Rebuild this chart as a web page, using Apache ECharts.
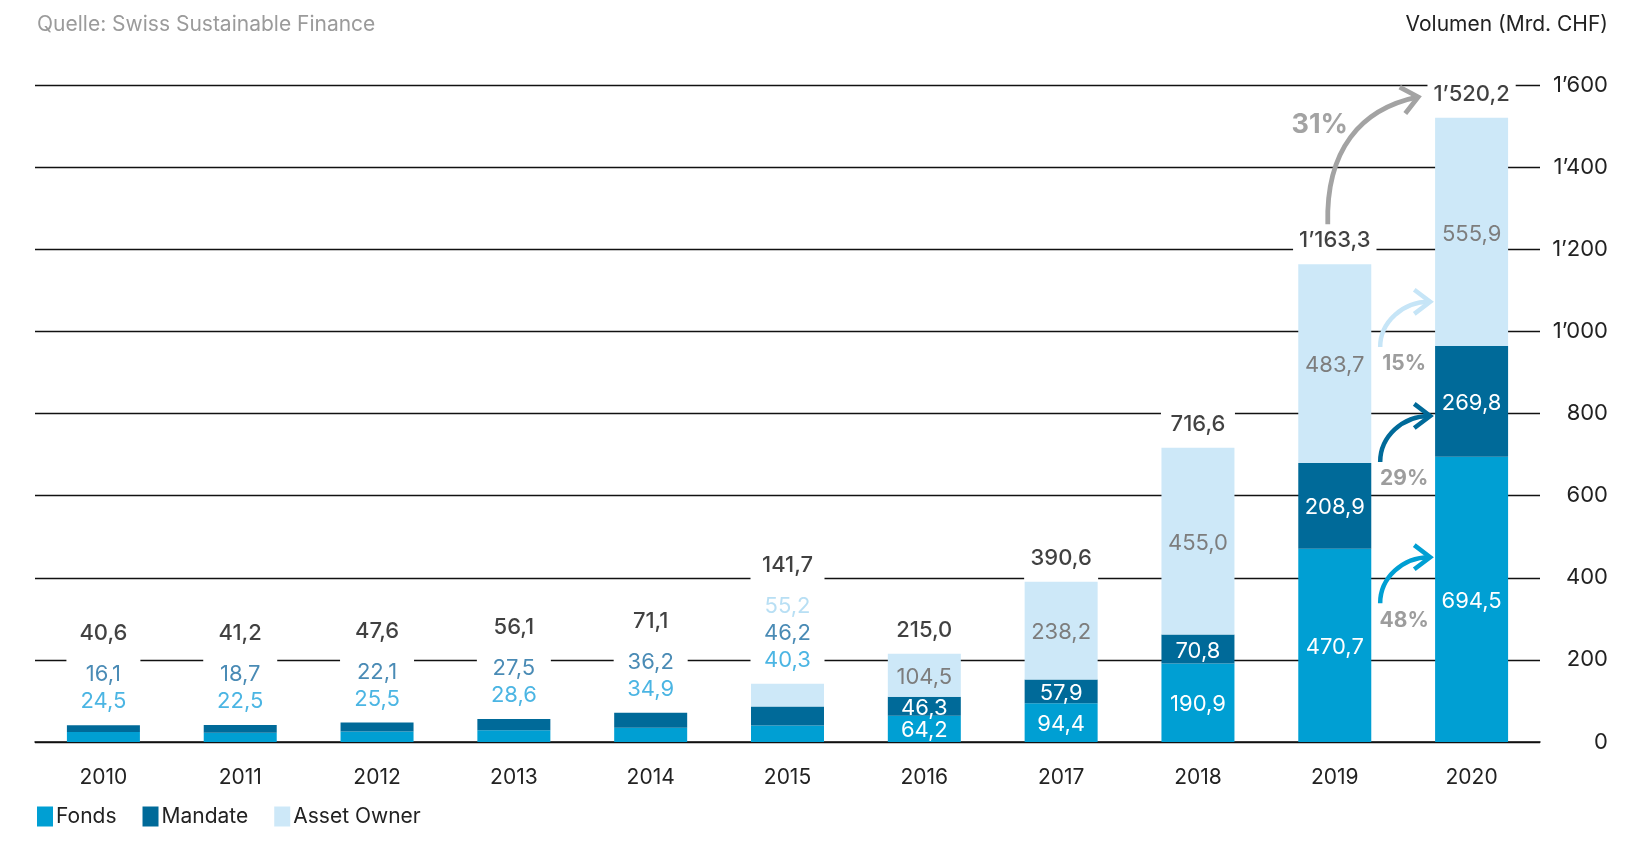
<!DOCTYPE html>
<html><head><meta charset="utf-8">
<script src="https://cdn.jsdelivr.net/npm/echarts/dist/echarts.min.js"></script>
<style>html,body{margin:0;padding:0;background:#fff}#c{width:1632px;height:853px}</style>
</head><body><div id="c"></div>
<script>
// ---- data ----
const years = ['2010','2011','2012','2013','2014','2015','2016','2017','2018','2019','2020'];
const fonds = [24.5, 22.5, 25.5, 28.6, 34.9, 40.3, 64.2, 94.4, 190.9, 470.7, 694.5];
const mandate = [16.1, 18.7, 22.1, 27.5, 36.2, 46.2, 46.3, 57.9, 70.8, 208.9, 269.8];
const assetOwner = [0, 0, 0, 0, 0, 55.2, 104.5, 238.2, 455.0, 483.7, 555.9];
const totals = [40.6, 41.2, 47.6, 56.1, 71.1, 141.7, 215.0, 390.6, 716.6, 1163.3, 1520.2];
const yTicks = [0, 200, 400, 600, 800, 1000, 1200, 1400, 1600];
const seriesNames = ['Fonds', 'Mandate', 'Asset Owner'];
const growthPct = ['48%', '29%', '15%'];      // 2019 -> 2020 per segment
const growthTotal = '31%';                    // 2019 -> 2020 total
const sourceText = 'Quelle: Swiss Sustainable Finance';
const unitText = 'Volumen (Mrd. CHF)';

// ---- style ----
const C_FONDS = '#009fd3', C_MAND = '#006a99', C_ASSET = '#cde8f8';
const FONT = 'Inter';
const insideFrom = 6;   // years from this index get labels inside the bars
const LW = 74;          // label background width
const LH_T = 55, LH = 27, GAP = 10;

function fmt(v) {
  const s = v.toFixed(1).replace('.', ',');
  const [a, b] = s.split(',');
  return a.replace(/\B(?=(\d{3})+(?!\d))/g, '\u2019') + ',' + b;
}
function fmtTick(v) { return String(v).replace(/\B(?=(\d{3})+(?!\d))/g, '\u2019'); }

const measureCtx = document.createElement('canvas').getContext('2d');
measureCtx.font = '500 22px ' + FONT;

function segData(arr, color) {
  return arr.map((v, i) => i >= insideFrom
    ? { value: v, label: { show: true, position: 'inside', offset: [0, 2], color: color, fontSize: 22, fontFamily: FONT, formatter: p => fmt(p.value) } }
    : { value: v, label: { show: false } });
}

// label text + block size (for the white box that interrupts the grid lines)
const blockH = [], blockW = [];
const totalData = totals.map((t, i) => {
  let f, h;
  if (i >= insideFrom) { f = '{s|' + fmt(t) + '}'; h = LH + GAP; }
  else {
    f = '{t|' + fmt(t) + '}\n'; h = LH_T + GAP + 2 * LH;
    if (assetOwner[i] > 0) { f += '{a|' + fmt(assetOwner[i]) + '}\n'; h += LH; }
    f += '{m|' + fmt(mandate[i]) + '}\n{f|' + fmt(fonds[i]) + '}';
  }
  blockH.push(h);
  blockW.push(Math.max(LW, measureCtx.measureText(fmt(t)).width + 12));
  return { value: [years[i], t], label: { formatter: f } };
});

function rs(color, lh, extra) {
  return Object.assign({ fontFamily: FONT, fontSize: 22, color: color, lineHeight: lh, align: 'center' }, extra || {});
}

const chart = echarts.init(document.getElementById('c'));
const option = {
  backgroundColor: '#fff',
  animation: false,
  textStyle: { fontFamily: FONT },
  title: [
    { text: sourceText, left: 37, top: 14, padding: 0, textStyle: { fontFamily: FONT, fontSize: 21, color: '#9b9b9b', fontWeight: 'normal' } },
    { text: unitText, right: 24, top: 14, padding: 0, textStyle: { fontFamily: FONT, fontSize: 21, color: '#222', fontWeight: 'normal' } }
  ],
  legend: {
    data: seriesNames, left: 37, top: 806, padding: 0, itemWidth: 16, itemHeight: 20, itemGap: 26, icon: 'rect',
    textStyle: { fontFamily: FONT, fontSize: 21, color: '#222', padding: [0, 0, 0, -2] }
  },
  grid: { left: 35, right: 92, top: 85, bottom: 853 - 742 },
  xAxis: {
    type: 'category', data: years,
    axisLine: { lineStyle: { color: '#111', width: 1.5 } },
    axisTick: { show: false },
    axisLabel: { fontFamily: FONT, fontSize: 21, color: '#222', margin: 25 }
  },
  yAxis: {
    type: 'value', position: 'right', min: 0, max: yTicks[yTicks.length - 1], interval: yTicks[1] - yTicks[0],
    axisLine: { show: false }, axisTick: { show: false },
    splitLine: { lineStyle: { color: '#111', width: 1.3 } },
    axisLabel: { fontFamily: FONT, fontSize: 22, color: '#222', align: 'right', margin: 68, formatter: fmtTick }
  },
  series: [
    { name: seriesNames[0], type: 'bar', stack: 's', barWidth: 73, itemStyle: { color: C_FONDS }, data: segData(fonds, '#fff') },
    { name: seriesNames[1], type: 'bar', stack: 's', barWidth: 73, itemStyle: { color: C_MAND }, data: segData(mandate, '#fff') },
    { name: seriesNames[2], type: 'bar', stack: 's', barWidth: 73, itemStyle: { color: C_ASSET }, data: segData(assetOwner, '#7d7d7d') },
    {
      // white boxes behind the total labels, breaking the grid lines
      name: 'labelBox', type: 'custom', z: 1, silent: true,
      data: totals.map((t, i) => [i, t]),
      renderItem: function (params, api) {
        const p = api.coord([api.value(0), api.value(1)]);
        const i = params.dataIndex, w = blockW[i], h = blockH[i];
        return { type: 'rect', shape: { x: p[0] - w / 2, y: p[1] - h, width: w, height: h }, style: { fill: '#fff' } };
      }
    },
    {
      name: 'Total', type: 'scatter', symbolSize: 0, z: 5, silent: true, data: totalData,
      label: {
        show: true, position: 'top', distance: GAP,
        rich: {
          t: rs('#111', LH_T, { fontWeight: 500 }),
          s: rs('#111', LH, { fontWeight: 500 }),
          a: rs('#a6d7f1', LH),
          m: rs('#1d6ea3', LH),
          f: rs('#1ea2dc', LH)
        }
      }
    }
  ]
};
chart.setOption(option);

// ---- growth arrows (positioned from axis values) ----
function px(cat, v) { return chart.convertToPixel({ xAxisIndex: 0, yAxisIndex: 0 }, [cat, v]); }
function chevron(tx, ty, ang, color, w, len, spread) {
  const pts = [];
  [spread, -spread].forEach(s => {
    const a = ang + Math.PI - s;
    pts.push([tx + len * Math.cos(a), ty + len * Math.sin(a)]);
  });
  return { type: 'polyline', z: 10, shape: { points: [pts[0], [tx, ty], pts[1]] }, style: { stroke: color, lineWidth: w, fill: null, lineJoin: 'miter' } };
}
const x19 = px(years[9], 0)[0], x20 = px(years[10], 0)[0], mid = (x19 + x20) / 2;
const segArrows = [
  { from: 338, to: 450, color: C_FONDS, text: growthPct[0] },
  { from: 682, to: 794, color: C_MAND, text: growthPct[1] },
  { from: 962, to: 1072, color: '#c6e5f7', text: growthPct[2] }
];
const gfx = [];
segArrows.forEach(a => {
  const sy = px(years[9], a.from)[1], ty = px(years[9], a.to)[1];
  const sx = mid - 23, tx = mid + 27;
  gfx.push({ type: 'bezierCurve', z: 10, shape: { x1: sx, y1: sy, cpx1: sx, cpy1: sy - (sy - ty) * 0.55, cpx2: sx + (tx - sx) * 0.45, cpy2: ty, x2: tx - 1, y2: ty },
    style: { stroke: a.color, lineWidth: 4.5, fill: null } });
  gfx.push(chevron(tx, ty, 0, a.color, 4.5, 20, 0.65));
  gfx.push({ type: 'text', z: 10, style: { text: a.text, x: mid + 1, y: sy + 17, textAlign: 'center', textVerticalAlign: 'middle', align: 'center', verticalAlign: 'middle', fill: '#9d9d9d', font: 'bold 21px ' + FONT } });
});
// total arrow
{
  const sx = x19 - 7, sy = px(years[9], 1261)[1];
  const tx = mid + 15, ty = px(years[9], 1571)[1];
  const ang = -12 * Math.PI / 180;
  gfx.push({ type: 'bezierCurve', z: 10, shape: { x1: sx, y1: sy, cpx1: sx - 2, cpy1: sy - 74, cpx2: tx - 58, cpy2: ty + 12, x2: tx, y2: ty },
    style: { stroke: '#a3a3a3', lineWidth: 4.8, fill: null } });
  gfx.push(chevron(tx, ty, ang, '#a3a3a3', 4.8, 21, 0.7));
  const tp = px(years[9], 1503);
  gfx.push({ type: 'text', z: 10, style: { text: growthTotal, x: x19 - 15, y: tp[1], textAlign: 'center', textVerticalAlign: 'middle', align: 'center', verticalAlign: 'middle', fill: '#a3a3a3', font: 'bold 27px ' + FONT } });
}
chart.setOption({ graphic: { elements: gfx } });
</script>
</body></html>
